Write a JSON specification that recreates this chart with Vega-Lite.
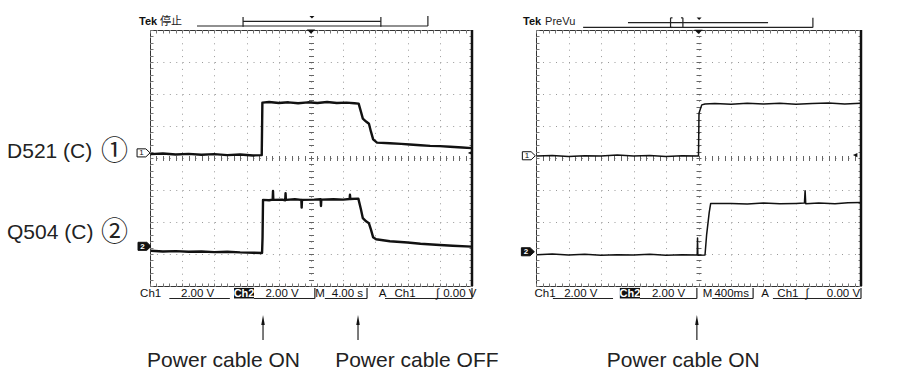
{
"$schema":"https://vega.github.io/schema/vega-lite/v6.json",
"background":"white",
"padding":{"left":6,"top":14,"right":5,"bottom":5},
"bounds":"flush",
"spacing":64,
"config":{"view":{"stroke":"#333","strokeWidth":1}},
"datasets":{
"L1":[{"x":-4.97,"y":0.12},{"x":-4.6,"y":0.14},{"x":-4.2,"y":0.11},{"x":-3.8,"y":0.13},{"x":-3.4,"y":0.1},{"x":-3.0,"y":0.12},{"x":-2.6,"y":0.09},{"x":-2.2,"y":0.11},{"x":-1.8,"y":0.08},{"x":-1.53,"y":0.09},{"x":-1.51,"y":1.73},{"x":-1.3,"y":1.75},{"x":-1.0,"y":1.72},{"x":-0.7,"y":1.74},{"x":-0.4,"y":1.71},{"x":-0.1,"y":1.74},{"x":0.2,"y":1.72},{"x":0.5,"y":1.75},{"x":0.8,"y":1.72},{"x":1.1,"y":1.73},{"x":1.35,"y":1.71},{"x":1.48,"y":1.7},{"x":1.55,"y":1.45},{"x":1.61,"y":1.23},{"x":1.71,"y":1.14},{"x":1.8,"y":1.07},{"x":1.86,"y":0.83},{"x":1.93,"y":0.58},{"x":2.05,"y":0.48},{"x":2.45,"y":0.46},{"x":2.8,"y":0.44},{"x":3.07,"y":0.42},{"x":3.4,"y":0.4},{"x":3.7,"y":0.38},{"x":4.0,"y":0.37},{"x":4.32,"y":0.35},{"x":4.7,"y":0.33},{"x":4.99,"y":0.31}],
"L2":[{"x":-4.97,"y":-2.9},{"x":-4.6,"y":-2.92},{"x":-4.2,"y":-2.91},{"x":-3.8,"y":-2.93},{"x":-3.4,"y":-2.92},{"x":-3.0,"y":-2.94},{"x":-2.6,"y":-2.93},{"x":-2.2,"y":-2.95},{"x":-1.8,"y":-2.96},{"x":-1.52,"y":-2.97},{"x":-1.505,"y":-2.5},{"x":-1.49,"y":-1.31},{"x":-1.3,"y":-1.32},{"x":-1.19,"y":-1.3},{"x":-1.18,"y":-1.03},{"x":-1.17,"y":-1.31},{"x":-0.9,"y":-1.3},{"x":-0.8,"y":-1.32},{"x":-0.79,"y":-1.1},{"x":-0.78,"y":-1.31},{"x":-0.5,"y":-1.29},{"x":-0.3,"y":-1.31},{"x":-0.29,"y":-1.55},{"x":-0.28,"y":-1.31},{"x":0.1,"y":-1.3},{"x":0.3,"y":-1.29},{"x":0.31,"y":-1.5},{"x":0.32,"y":-1.3},{"x":0.7,"y":-1.29},{"x":1.0,"y":-1.3},{"x":1.2,"y":-1.28},{"x":1.21,"y":-1.15},{"x":1.22,"y":-1.28},{"x":1.47,"y":-1.27},{"x":1.55,"y":-1.6},{"x":1.61,"y":-1.88},{"x":1.71,"y":-1.98},{"x":1.8,"y":-2.04},{"x":1.86,"y":-2.23},{"x":1.93,"y":-2.48},{"x":2.02,"y":-2.54},{"x":2.45,"y":-2.6},{"x":3.0,"y":-2.64},{"x":3.4,"y":-2.68},{"x":4.0,"y":-2.72},{"x":4.4,"y":-2.74},{"x":4.99,"y":-2.77}],
"R1":[{"x":-4.97,"y":0.06},{"x":-4.5,"y":0.08},{"x":-4.0,"y":0.05},{"x":-3.5,"y":0.07},{"x":-3.0,"y":0.06},{"x":-2.5,"y":0.09},{"x":-2.0,"y":0.06},{"x":-1.5,"y":0.08},{"x":-1.0,"y":0.05},{"x":-0.5,"y":0.07},{"x":0.0,"y":0.06},{"x":0.015,"y":1.4},{"x":0.1,"y":1.66},{"x":0.2,"y":1.69},{"x":0.5,"y":1.7},{"x":1.0,"y":1.68},{"x":1.5,"y":1.71},{"x":2.0,"y":1.69},{"x":2.5,"y":1.71},{"x":3.0,"y":1.68},{"x":3.5,"y":1.7},{"x":4.0,"y":1.72},{"x":4.5,"y":1.69},{"x":4.99,"y":1.71}],
"R2":[{"x":-4.97,"y":-3.02},{"x":-4.5,"y":-3.0},{"x":-4.0,"y":-3.03},{"x":-3.5,"y":-3.01},{"x":-3.0,"y":-3.04},{"x":-2.5,"y":-3.02},{"x":-2.0,"y":-3.03},{"x":-1.5,"y":-3.01},{"x":-1.0,"y":-3.04},{"x":-0.5,"y":-3.02},{"x":-0.04,"y":-3.03},{"x":-0.03,"y":-2.5},{"x":-0.02,"y":-3.04},{"x":0.2,"y":-3.03},{"x":0.25,"y":-2.4},{"x":0.33,"y":-1.7},{"x":0.375,"y":-1.42},{"x":1.0,"y":-1.42},{"x":1.5,"y":-1.44},{"x":2.0,"y":-1.41},{"x":2.5,"y":-1.43},{"x":3.0,"y":-1.42},{"x":3.26,"y":-1.41},{"x":3.28,"y":-1.02},{"x":3.3,"y":-1.43},{"x":3.7,"y":-1.41},{"x":4.2,"y":-1.43},{"x":4.6,"y":-1.4},{"x":4.99,"y":-1.39}],
"LA":[
{"k":"bar","x":-3.54,"x2":3.63,"y":4.125,"y2":4.125},
{"k":"bar","x":3.63,"x2":3.63,"y":4.125,"y2":4.44},
{"k":"bar","x":-2.11,"x2":2.17,"y":4.27,"y2":4.27},
{"k":"bar","x":-2.11,"x2":-2.11,"y":4.1,"y2":4.41},
{"k":"bar","x":2.17,"x2":2.17,"y":4.1,"y2":4.41},
{"k":"bar","x":-4.4,"x2":-2.52,"y":-4.39,"y2":-4.39},
{"k":"bar","x":-1.77,"x2":0.12,"y":-4.39,"y2":-4.39},
{"k":"bar","x":0.12,"x2":0.12,"y":-4.06,"y2":-4.39},
{"k":"bar","x":0.43,"x2":1.74,"y":-4.39,"y2":-4.39},
{"k":"bar","x":1.74,"x2":1.74,"y":-4.06,"y2":-4.39},
{"k":"bar","x":2.3,"x2":5.0,"y":-4.39,"y2":-4.39},
{"k":"bar","x":5.0,"x2":5.0,"y":-4.06,"y2":-4.39},
{"k":"bar","x":-1.49,"x2":-1.49,"y":-5.1,"y2":-5.69},
{"k":"bar","x":1.46,"x2":1.46,"y":-5.1,"y2":-5.69},
{"k":"big","x":-9.44,"y":-0.01,"s":"D521 (C)"},
{"k":"big","x":-9.44,"y":-2.53,"s":"Q504 (C)"},
{"k":"big","x":-5.09,"y":-6.53,"s":"Power cable ON"},
{"k":"big","x":0.75,"y":-6.53,"s":"Power cable OFF"},
{"k":"circ","x":-6.1,"y":0.18,"s":"①"},
{"k":"circ","x":-6.1,"y":-2.35,"s":"②"},
{"k":"st","x":-4.98,"y":-4.34,"s":"Ch1"},
{"k":"st","x":-3.52,"y":-4.34,"s":"2.00 V"},
{"k":"st","x":-0.9,"y":-4.34,"s":"2.00 V"},
{"k":"st","x":0.28,"y":-4.34,"s":"M"},
{"k":"st","x":1.13,"y":-4.34,"s":"4.00 s"},
{"k":"st","x":2.22,"y":-4.34,"s":"A"},
{"k":"st","x":2.92,"y":-4.34,"s":"Ch1"},
{"k":"st","x":3.93,"y":-4.34,"s":"∫"},
{"k":"st","x":4.62,"y":-4.34,"s":"0.00 V"},
{"k":"inv","x":-2.39,"x2":-1.77,"y":-4.06,"y2":-4.39},
{"k":"invt","x":-2.08,"y":-4.34,"s":"Ch2"},
{"k":"tek","x":-5.34,"y":4.16,"s":"Tek"},
{"k":"tek2","x":-4.69,"y":4.16,"s":"停止"},
{"k":"tag1","x":-5.2,"y":0.16,"s":"1"},
{"k":"tag2","x":-5.17,"y":-2.76,"s":"2"},
{"k":"tri","x":0,"y":3.95},
{"k":"tris","x":0.03,"y":4.4},
{"k":"trig","x":4.94,"y":0.16},
{"k":"arr","x":-1.49,"y":-5.06},
{"k":"arr","x":1.46,"y":-5.06}
],
"RA":[
{"k":"bar","x":-3.55,"x2":3.52,"y":4.08,"y2":4.08},
{"k":"bar","x":3.52,"x2":3.52,"y":4.08,"y2":4.38},
{"k":"bar","x":-2.17,"x2":2.14,"y":4.23,"y2":4.23},
{"k":"bar","x":-0.86,"x2":-0.86,"y":4.08,"y2":4.38},
{"k":"bar","x":-0.86,"x2":-0.8,"y":4.38,"y2":4.38},
{"k":"bar","x":-0.86,"x2":-0.8,"y":4.08,"y2":4.08},
{"k":"bar","x":-0.48,"x2":-0.48,"y":4.08,"y2":4.38},
{"k":"bar","x":-0.54,"x2":-0.48,"y":4.38,"y2":4.38},
{"k":"bar","x":-4.48,"x2":-2.63,"y":-4.39,"y2":-4.39},
{"k":"bar","x":-1.8,"x2":-0.05,"y":-4.39,"y2":-4.39},
{"k":"bar","x":-0.05,"x2":-0.05,"y":-4.06,"y2":-4.39},
{"k":"bar","x":0.42,"x2":1.68,"y":-4.39,"y2":-4.39},
{"k":"bar","x":1.68,"x2":1.68,"y":-4.06,"y2":-4.39},
{"k":"bar","x":2.29,"x2":5.0,"y":-4.39,"y2":-4.39},
{"k":"bar","x":5.0,"x2":5.0,"y":-4.06,"y2":-4.39},
{"k":"bar","x":-0.05,"x2":-0.05,"y":-5.1,"y2":-5.69},
{"k":"big","x":-2.82,"y":-6.53,"s":"Power cable ON"},
{"k":"st","x":-4.72,"y":-4.34,"s":"Ch1"},
{"k":"st","x":-3.62,"y":-4.34,"s":"2.00 V"},
{"k":"st","x":-0.92,"y":-4.34,"s":"2.00 V"},
{"k":"st","x":0.28,"y":-4.34,"s":"M"},
{"k":"st","x":1.02,"y":-4.34,"s":"400ms"},
{"k":"st","x":2.05,"y":-4.34,"s":"A"},
{"k":"st","x":2.75,"y":-4.34,"s":"Ch1"},
{"k":"st","x":3.34,"y":-4.34,"s":"∫"},
{"k":"st","x":4.46,"y":-4.34,"s":"0.00 V"},
{"k":"inv","x":-2.42,"x2":-1.8,"y":-4.06,"y2":-4.39},
{"k":"invt","x":-2.11,"y":-4.34,"s":"Ch2"},
{"k":"tek","x":-5.4,"y":4.16,"s":"Tek"},
{"k":"tek2","x":-4.72,"y":4.16,"s":"PreVu"},
{"k":"tag1","x":-5.22,"y":0.07,"s":"1"},
{"k":"tag2","x":-5.25,"y":-2.93,"s":"2"},
{"k":"tri","x":0,"y":3.94},
{"k":"tris","x":0.02,"y":4.35},
{"k":"trig","x":4.82,"y":0.09},
{"k":"arr","x":-0.05,"y":-5.06}
]
},
"hconcat":[
{
"width":322,"height":256,
"resolve":{"axis":{"x":"independent","y":"independent"}},
"layer":[
{"data":{"name":"L1"},"mark":{"type":"line","color":"#111","strokeWidth":2.4,"strokeJoin":"round"},
 "encoding":{
  "x":{"field":"x","type":"quantitative","scale":{"domain":[-5,5],"nice":false,"zero":false},"axis":{"orient":"bottom","values":[-5,-4,-3,-2,-1,0,1,2,3,4,5],"grid":true,"gridDash":[1,5.4],"gridColor":"#999","gridOpacity":1,"ticks":false,"labels":false,"domain":false,"title":null,"minExtent":0}},
  "y":{"field":"y","type":"quantitative","scale":{"domain":[-4,4],"nice":false,"zero":false},"axis":{"orient":"left","values":[-4,-3,-2,-1,0,1,2,3,4],"grid":true,"gridDash":[1,5.44],"gridColor":"#999","gridOpacity":1,"ticks":false,"labels":false,"domain":false,"title":null,"minExtent":0}}}},
{"data":{"name":"L2"},"mark":{"type":"line","color":"#111","strokeWidth":2.4,"strokeJoin":"round"},
 "encoding":{
  "x":{"field":"x","type":"quantitative","scale":{"domain":[-5,5],"nice":false,"zero":false},"axis":{"orient":"bottom","values":[-5,-4.8,-4.6,-4.4,-4.2,-4,-3.8,-3.6,-3.4,-3.2,-3,-2.8,-2.6,-2.4,-2.2,-2,-1.8,-1.6,-1.4,-1.2,-1,-0.8,-0.6,-0.4,-0.2,0,0.2,0.4,0.6,0.8,1,1.2,1.4,1.6,1.8,2,2.2,2.4,2.6,2.8,3,3.2,3.4,3.6,3.8,4,4.2,4.4,4.6,4.8,5],"grid":false,"ticks":true,"tickSize":3,"tickColor":"#777","offset":-3,"labels":false,"domain":false,"title":null,"minExtent":0}},
  "y":{"field":"y","type":"quantitative","scale":{"domain":[-4,4],"nice":false,"zero":false},"axis":{"orient":"left","values":[-4,-3.8,-3.6,-3.4,-3.2,-3,-2.8,-2.6,-2.4,-2.2,-2,-1.8,-1.6,-1.4,-1.2,-1,-0.8,-0.6,-0.4,-0.2,0,0.2,0.4,0.6,0.8,1,1.2,1.4,1.6,1.8,2,2.2,2.4,2.6,2.8,3,3.2,3.4,3.6,3.8,4],"grid":false,"ticks":true,"tickSize":3,"tickColor":"#777","offset":-3,"labels":false,"domain":false,"title":null,"minExtent":0}}}},
{"data":{"name":"LA"},"transform":[{"filter":"datum.k==='bar'"}],"mark":{"type":"rule","color":"#222","strokeWidth":1.2},
 "encoding":{
  "x":{"field":"x","type":"quantitative","scale":{"domain":[-5,5],"nice":false,"zero":false},"axis":{"orient":"top","values":[-5,-4.8,-4.6,-4.4,-4.2,-4,-3.8,-3.6,-3.4,-3.2,-3,-2.8,-2.6,-2.4,-2.2,-2,-1.8,-1.6,-1.4,-1.2,-1,-0.8,-0.6,-0.4,-0.2,0,0.2,0.4,0.6,0.8,1,1.2,1.4,1.6,1.8,2,2.2,2.4,2.6,2.8,3,3.2,3.4,3.6,3.8,4,4.2,4.4,4.6,4.8,5],"grid":false,"ticks":true,"tickSize":3,"tickColor":"#777","offset":-3,"labels":false,"domain":false,"title":null,"minExtent":0}},
  "x2":{"field":"x2"},
  "y":{"field":"y","type":"quantitative","scale":{"domain":[-4,4],"nice":false,"zero":false},"axis":{"orient":"right","values":[-4,-3.8,-3.6,-3.4,-3.2,-3,-2.8,-2.6,-2.4,-2.2,-2,-1.8,-1.6,-1.4,-1.2,-1,-0.8,-0.6,-0.4,-0.2,0,0.2,0.4,0.6,0.8,1,1.2,1.4,1.6,1.8,2,2.2,2.4,2.6,2.8,3,3.2,3.4,3.6,3.8,4],"grid":false,"ticks":true,"tickSize":3,"tickColor":"#777","offset":-3,"labels":false,"domain":false,"title":null,"minExtent":0}},
  "y2":{"field":"y2"}}},
{"data":{"name":"LA"},"transform":[{"filter":"datum.k==='big'"}],"mark":{"type":"text","align":"left","baseline":"alphabetic","font":"Liberation Sans","fontSize":21,"color":"#222"},
 "encoding":{
  "x":{"field":"x","type":"quantitative","scale":{"domain":[-5,5],"nice":false,"zero":false},"axis":{"orient":"bottom","values":[-5,-4.8,-4.6,-4.4,-4.2,-4,-3.8,-3.6,-3.4,-3.2,-3,-2.8,-2.6,-2.4,-2.2,-2,-1.8,-1.6,-1.4,-1.2,-1,-0.8,-0.6,-0.4,-0.2,0,0.2,0.4,0.6,0.8,1,1.2,1.4,1.6,1.8,2,2.2,2.4,2.6,2.8,3,3.2,3.4,3.6,3.8,4,4.2,4.4,4.6,4.8,5],"grid":false,"ticks":true,"tickSize":5,"tickColor":"#666","offset":-130.5,"labels":false,"domain":false,"title":null,"minExtent":0}},
  "y":{"field":"y","type":"quantitative","scale":{"domain":[-4,4],"nice":false,"zero":false},"axis":{"orient":"left","values":[-4,-3.8,-3.6,-3.4,-3.2,-3,-2.8,-2.6,-2.4,-2.2,-2,-1.8,-1.6,-1.4,-1.2,-1,-0.8,-0.6,-0.4,-0.2,0,0.2,0.4,0.6,0.8,1,1.2,1.4,1.6,1.8,2,2.2,2.4,2.6,2.8,3,3.2,3.4,3.6,3.8,4],"grid":false,"ticks":true,"tickSize":5,"tickColor":"#666","offset":-163.5,"labels":false,"domain":false,"title":null,"minExtent":0}},
  "text":{"field":"s"}}},
{"data":{"name":"LA"},"transform":[{"filter":"datum.k==='circ'"}],"mark":{"type":"text","align":"center","baseline":"middle","font":"Noto Sans CJK JP","fontSize":27,"color":"#222"},
 "encoding":{"x":{"field":"x","type":"quantitative","axis":null},"y":{"field":"y","type":"quantitative","axis":null},"text":{"field":"s"}}},
{"data":{"name":"LA"},"transform":[{"filter":"datum.k==='st'"}],"mark":{"type":"text","align":"center","baseline":"alphabetic","font":"Liberation Sans","fontSize":11.5,"color":"#111"},
 "encoding":{"x":{"field":"x","type":"quantitative","axis":null},"y":{"field":"y","type":"quantitative","axis":null},"text":{"field":"s"}}},
{"data":{"name":"LA"},"transform":[{"filter":"datum.k==='inv'"}],"mark":{"type":"rect","color":"#111"},
 "encoding":{"x":{"field":"x","type":"quantitative","axis":null},"x2":{"field":"x2"},"y":{"field":"y","type":"quantitative","axis":null},"y2":{"field":"y2"}}},
{"data":{"name":"LA"},"transform":[{"filter":"datum.k==='invt'"}],"mark":{"type":"text","align":"center","baseline":"alphabetic","font":"Liberation Sans","fontSize":11,"fontWeight":"bold","color":"white"},
 "encoding":{"x":{"field":"x","type":"quantitative","axis":null},"y":{"field":"y","type":"quantitative","axis":null},"text":{"field":"s"}}},
{"data":{"name":"LA"},"transform":[{"filter":"datum.k==='tek'"}],"mark":{"type":"text","align":"left","baseline":"alphabetic","font":"Liberation Sans","fontSize":11,"fontWeight":"bold","color":"#111"},
 "encoding":{"x":{"field":"x","type":"quantitative","axis":null},"y":{"field":"y","type":"quantitative","axis":null},"text":{"field":"s"}}},
{"data":{"name":"LA"},"transform":[{"filter":"datum.k==='tek2'"}],"mark":{"type":"text","align":"left","baseline":"alphabetic","font":"Noto Sans CJK JP","fontSize":11,"color":"#222"},
 "encoding":{"x":{"field":"x","type":"quantitative","axis":null},"y":{"field":"y","type":"quantitative","axis":null},"text":{"field":"s"}}},
{"data":{"name":"LA"},"transform":[{"filter":"datum.k==='tag1'"}],"mark":{"type":"point","shape":"M-1,-0.62L0.35,-0.62L1,0L0.35,0.62L-1,0.62Z","size":169,"filled":true,"fill":"white","stroke":"#111","strokeWidth":1,"opacity":1},
 "encoding":{"x":{"field":"x","type":"quantitative","axis":null},"y":{"field":"y","type":"quantitative","axis":null}}},
{"data":{"name":"LA"},"transform":[{"filter":"datum.k==='tag2'"}],"mark":{"type":"point","shape":"M-1,-0.62L0.35,-0.62L1,0L0.35,0.62L-1,0.62Z","size":169,"filled":true,"fill":"#111","stroke":"#111","strokeWidth":1,"opacity":1},
 "encoding":{"x":{"field":"x","type":"quantitative","axis":null},"y":{"field":"y","type":"quantitative","axis":null}}},
{"data":{"name":"LA"},"transform":[{"filter":"datum.k==='tag1'"}],"mark":{"type":"text","align":"center","baseline":"middle","font":"Liberation Sans","fontSize":8,"dx":-2,"dy":0.5,"color":"#111"},
 "encoding":{"x":{"field":"x","type":"quantitative","axis":null},"y":{"field":"y","type":"quantitative","axis":null},"text":{"field":"s"}}},
{"data":{"name":"LA"},"transform":[{"filter":"datum.k==='tag2'"}],"mark":{"type":"text","align":"center","baseline":"middle","font":"Liberation Sans","fontSize":8,"fontWeight":"bold","dx":-2,"dy":0.5,"color":"white"},
 "encoding":{"x":{"field":"x","type":"quantitative","axis":null},"y":{"field":"y","type":"quantitative","axis":null},"text":{"field":"s"}}},
{"data":{"name":"LA"},"transform":[{"filter":"datum.k==='tri'"}],"mark":{"type":"point","shape":"M-1,-0.5L1,-0.5L0,0.5Z","size":70,"filled":true,"color":"#111","opacity":1},
 "encoding":{"x":{"field":"x","type":"quantitative","axis":null},"y":{"field":"y","type":"quantitative","axis":null}}},
{"data":{"name":"LA"},"transform":[{"filter":"datum.k==='tris'"}],"mark":{"type":"point","shape":"M-1,-0.5L1,-0.5L0,0.5Z","size":25,"filled":true,"color":"#111","opacity":1},
 "encoding":{"x":{"field":"x","type":"quantitative","axis":null},"y":{"field":"y","type":"quantitative","axis":null}}},
{"data":{"name":"LA"},"transform":[{"filter":"datum.k==='trig'"}],"mark":{"type":"point","shape":"M1,-1L1,1L-1,0Z","size":20,"filled":true,"color":"#111","opacity":1},
 "encoding":{"x":{"field":"x","type":"quantitative","axis":null},"y":{"field":"y","type":"quantitative","axis":null}}},
{"data":{"name":"LA"},"transform":[{"filter":"datum.k==='arr'"}],"mark":{"type":"point","shape":"M0,-1L0.35,1L-0.35,1Z","size":100,"filled":true,"color":"#111","opacity":1},
 "encoding":{"x":{"field":"x","type":"quantitative","axis":null},"y":{"field":"y","type":"quantitative","axis":null}}},
{"data":{"values":[{}]},"mark":{"type":"rule","color":"#111","strokeWidth":2.5},
 "encoding":{"x":{"datum":5,"type":"quantitative","axis":null},"y":{"datum":-4,"type":"quantitative","axis":null},"y2":{"datum":4}}}
]
},
{
"width":325,"height":256,
"resolve":{"axis":{"x":"independent","y":"independent"}},
"layer":[
{"data":{"name":"R1"},"mark":{"type":"line","color":"#111","strokeWidth":1.5,"strokeJoin":"round"},
 "encoding":{
  "x":{"field":"x","type":"quantitative","scale":{"domain":[-5,5],"nice":false,"zero":false},"axis":{"orient":"bottom","values":[-5,-4,-3,-2,-1,0,1,2,3,4,5],"grid":true,"gridDash":[1,5.4],"gridColor":"#999","gridOpacity":1,"ticks":false,"labels":false,"domain":false,"title":null,"minExtent":0}},
  "y":{"field":"y","type":"quantitative","scale":{"domain":[-4,4],"nice":false,"zero":false},"axis":{"orient":"left","values":[-4,-3,-2,-1,0,1,2,3,4],"grid":true,"gridDash":[1,5.5],"gridColor":"#999","gridOpacity":1,"ticks":false,"labels":false,"domain":false,"title":null,"minExtent":0}}}},
{"data":{"name":"R2"},"mark":{"type":"line","color":"#111","strokeWidth":1.5,"strokeJoin":"round"},
 "encoding":{
  "x":{"field":"x","type":"quantitative","scale":{"domain":[-5,5],"nice":false,"zero":false},"axis":{"orient":"bottom","values":[-5,-4.8,-4.6,-4.4,-4.2,-4,-3.8,-3.6,-3.4,-3.2,-3,-2.8,-2.6,-2.4,-2.2,-2,-1.8,-1.6,-1.4,-1.2,-1,-0.8,-0.6,-0.4,-0.2,0,0.2,0.4,0.6,0.8,1,1.2,1.4,1.6,1.8,2,2.2,2.4,2.6,2.8,3,3.2,3.4,3.6,3.8,4,4.2,4.4,4.6,4.8,5],"grid":false,"ticks":true,"tickSize":3,"tickColor":"#777","offset":-3,"labels":false,"domain":false,"title":null,"minExtent":0}},
  "y":{"field":"y","type":"quantitative","scale":{"domain":[-4,4],"nice":false,"zero":false},"axis":{"orient":"left","values":[-4,-3.8,-3.6,-3.4,-3.2,-3,-2.8,-2.6,-2.4,-2.2,-2,-1.8,-1.6,-1.4,-1.2,-1,-0.8,-0.6,-0.4,-0.2,0,0.2,0.4,0.6,0.8,1,1.2,1.4,1.6,1.8,2,2.2,2.4,2.6,2.8,3,3.2,3.4,3.6,3.8,4],"grid":false,"ticks":true,"tickSize":3,"tickColor":"#777","offset":-3,"labels":false,"domain":false,"title":null,"minExtent":0}}}},
{"data":{"name":"RA"},"transform":[{"filter":"datum.k==='bar'"}],"mark":{"type":"rule","color":"#222","strokeWidth":1.2},
 "encoding":{
  "x":{"field":"x","type":"quantitative","scale":{"domain":[-5,5],"nice":false,"zero":false},"axis":{"orient":"top","values":[-5,-4.8,-4.6,-4.4,-4.2,-4,-3.8,-3.6,-3.4,-3.2,-3,-2.8,-2.6,-2.4,-2.2,-2,-1.8,-1.6,-1.4,-1.2,-1,-0.8,-0.6,-0.4,-0.2,0,0.2,0.4,0.6,0.8,1,1.2,1.4,1.6,1.8,2,2.2,2.4,2.6,2.8,3,3.2,3.4,3.6,3.8,4,4.2,4.4,4.6,4.8,5],"grid":false,"ticks":true,"tickSize":3,"tickColor":"#777","offset":-3,"labels":false,"domain":false,"title":null,"minExtent":0}},
  "x2":{"field":"x2"},
  "y":{"field":"y","type":"quantitative","scale":{"domain":[-4,4],"nice":false,"zero":false},"axis":{"orient":"right","values":[-4,-3.8,-3.6,-3.4,-3.2,-3,-2.8,-2.6,-2.4,-2.2,-2,-1.8,-1.6,-1.4,-1.2,-1,-0.8,-0.6,-0.4,-0.2,0,0.2,0.4,0.6,0.8,1,1.2,1.4,1.6,1.8,2,2.2,2.4,2.6,2.8,3,3.2,3.4,3.6,3.8,4],"grid":false,"ticks":true,"tickSize":3,"tickColor":"#777","offset":-3,"labels":false,"domain":false,"title":null,"minExtent":0}},
  "y2":{"field":"y2"}}},
{"data":{"name":"RA"},"transform":[{"filter":"datum.k==='big'"}],"mark":{"type":"text","align":"left","baseline":"alphabetic","font":"Liberation Sans","fontSize":21,"color":"#222"},
 "encoding":{
  "x":{"field":"x","type":"quantitative","scale":{"domain":[-5,5],"nice":false,"zero":false},"axis":{"orient":"bottom","values":[-5,-4.8,-4.6,-4.4,-4.2,-4,-3.8,-3.6,-3.4,-3.2,-3,-2.8,-2.6,-2.4,-2.2,-2,-1.8,-1.6,-1.4,-1.2,-1,-0.8,-0.6,-0.4,-0.2,0,0.2,0.4,0.6,0.8,1,1.2,1.4,1.6,1.8,2,2.2,2.4,2.6,2.8,3,3.2,3.4,3.6,3.8,4,4.2,4.4,4.6,4.8,5],"grid":false,"ticks":true,"tickSize":5,"tickColor":"#666","offset":-130.5,"labels":false,"domain":false,"title":null,"minExtent":0}},
  "y":{"field":"y","type":"quantitative","scale":{"domain":[-4,4],"nice":false,"zero":false},"axis":{"orient":"left","values":[-4,-3.8,-3.6,-3.4,-3.2,-3,-2.8,-2.6,-2.4,-2.2,-2,-1.8,-1.6,-1.4,-1.2,-1,-0.8,-0.6,-0.4,-0.2,0,0.2,0.4,0.6,0.8,1,1.2,1.4,1.6,1.8,2,2.2,2.4,2.6,2.8,3,3.2,3.4,3.6,3.8,4],"grid":false,"ticks":true,"tickSize":5,"tickColor":"#666","offset":-165,"labels":false,"domain":false,"title":null,"minExtent":0}},
  "text":{"field":"s"}}},
{"data":{"name":"RA"},"transform":[{"filter":"datum.k==='st'"}],"mark":{"type":"text","align":"center","baseline":"alphabetic","font":"Liberation Sans","fontSize":11.5,"color":"#111"},
 "encoding":{"x":{"field":"x","type":"quantitative","axis":null},"y":{"field":"y","type":"quantitative","axis":null},"text":{"field":"s"}}},
{"data":{"name":"RA"},"transform":[{"filter":"datum.k==='inv'"}],"mark":{"type":"rect","color":"#111"},
 "encoding":{"x":{"field":"x","type":"quantitative","axis":null},"x2":{"field":"x2"},"y":{"field":"y","type":"quantitative","axis":null},"y2":{"field":"y2"}}},
{"data":{"name":"RA"},"transform":[{"filter":"datum.k==='invt'"}],"mark":{"type":"text","align":"center","baseline":"alphabetic","font":"Liberation Sans","fontSize":11,"fontWeight":"bold","color":"white"},
 "encoding":{"x":{"field":"x","type":"quantitative","axis":null},"y":{"field":"y","type":"quantitative","axis":null},"text":{"field":"s"}}},
{"data":{"name":"RA"},"transform":[{"filter":"datum.k==='tek'"}],"mark":{"type":"text","align":"left","baseline":"alphabetic","font":"Liberation Sans","fontSize":11,"fontWeight":"bold","color":"#111"},
 "encoding":{"x":{"field":"x","type":"quantitative","axis":null},"y":{"field":"y","type":"quantitative","axis":null},"text":{"field":"s"}}},
{"data":{"name":"RA"},"transform":[{"filter":"datum.k==='tek2'"}],"mark":{"type":"text","align":"left","baseline":"alphabetic","font":"Liberation Sans","fontSize":11,"color":"#222"},
 "encoding":{"x":{"field":"x","type":"quantitative","axis":null},"y":{"field":"y","type":"quantitative","axis":null},"text":{"field":"s"}}},
{"data":{"name":"RA"},"transform":[{"filter":"datum.k==='tag1'"}],"mark":{"type":"point","shape":"M-1,-0.62L0.35,-0.62L1,0L0.35,0.62L-1,0.62Z","size":169,"filled":true,"fill":"white","stroke":"#111","strokeWidth":1,"opacity":1},
 "encoding":{"x":{"field":"x","type":"quantitative","axis":null},"y":{"field":"y","type":"quantitative","axis":null}}},
{"data":{"name":"RA"},"transform":[{"filter":"datum.k==='tag2'"}],"mark":{"type":"point","shape":"M-1,-0.62L0.35,-0.62L1,0L0.35,0.62L-1,0.62Z","size":169,"filled":true,"fill":"#111","stroke":"#111","strokeWidth":1,"opacity":1},
 "encoding":{"x":{"field":"x","type":"quantitative","axis":null},"y":{"field":"y","type":"quantitative","axis":null}}},
{"data":{"name":"RA"},"transform":[{"filter":"datum.k==='tag1'"}],"mark":{"type":"text","align":"center","baseline":"middle","font":"Liberation Sans","fontSize":8,"dx":-2,"dy":0.5,"color":"#111"},
 "encoding":{"x":{"field":"x","type":"quantitative","axis":null},"y":{"field":"y","type":"quantitative","axis":null},"text":{"field":"s"}}},
{"data":{"name":"RA"},"transform":[{"filter":"datum.k==='tag2'"}],"mark":{"type":"text","align":"center","baseline":"middle","font":"Liberation Sans","fontSize":8,"fontWeight":"bold","dx":-2,"dy":0.5,"color":"white"},
 "encoding":{"x":{"field":"x","type":"quantitative","axis":null},"y":{"field":"y","type":"quantitative","axis":null},"text":{"field":"s"}}},
{"data":{"name":"RA"},"transform":[{"filter":"datum.k==='tri'"}],"mark":{"type":"point","shape":"M-1,-0.5L1,-0.5L0,0.5Z","size":70,"filled":true,"color":"#111","opacity":1},
 "encoding":{"x":{"field":"x","type":"quantitative","axis":null},"y":{"field":"y","type":"quantitative","axis":null}}},
{"data":{"name":"RA"},"transform":[{"filter":"datum.k==='tris'"}],"mark":{"type":"point","shape":"M-1,-0.5L1,-0.5L0,0.5Z","size":25,"filled":true,"color":"#111","opacity":1},
 "encoding":{"x":{"field":"x","type":"quantitative","axis":null},"y":{"field":"y","type":"quantitative","axis":null}}},
{"data":{"name":"RA"},"transform":[{"filter":"datum.k==='trig'"}],"mark":{"type":"point","shape":"M1,-1L1,1L-1,0Z","size":20,"filled":true,"color":"#111","opacity":1},
 "encoding":{"x":{"field":"x","type":"quantitative","axis":null},"y":{"field":"y","type":"quantitative","axis":null}}},
{"data":{"name":"RA"},"transform":[{"filter":"datum.k==='arr'"}],"mark":{"type":"point","shape":"M0,-1L0.35,1L-0.35,1Z","size":100,"filled":true,"color":"#111","opacity":1},
 "encoding":{"x":{"field":"x","type":"quantitative","axis":null},"y":{"field":"y","type":"quantitative","axis":null}}},
{"data":{"values":[{}]},"mark":{"type":"rule","color":"#111","strokeWidth":2.5},
 "encoding":{"x":{"datum":5,"type":"quantitative","axis":null},"y":{"datum":-4,"type":"quantitative","axis":null},"y2":{"datum":4}}}
]
}
]
}
